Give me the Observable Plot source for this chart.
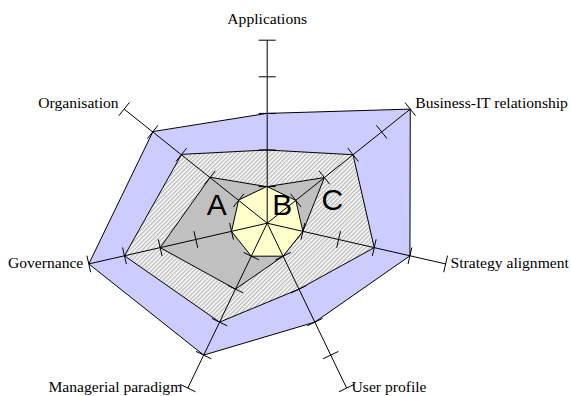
<!DOCTYPE html>
<html>
<head>
<meta charset="utf-8">
<script src="https://cdn.jsdelivr.net/npm/d3@7"></script>
<script src="https://cdn.jsdelivr.net/npm/@observablehq/plot@0.6"></script>
<style>
  html, body { margin: 0; padding: 0; background: #fff; }
  #chart svg { display: block; }
</style>
</head>
<body>
<div id="chart"></div>
<script>
// ---- data ----
const axes = ["Applications", "Business-IT relationship", "Strategy alignment", "User profile", "Managerial paradigm", "Governance", "Organisation"];
const levels = [1, 2, 3, 4, 5];
const seriesOuter = [3, 5, 4, 3, 4, 5, 4];
const seriesHatched = [2, 3, 3, 2, 3, 4, 3];
const seriesA = [1, 2, 1, 1, 2, 3, 2];
const seriesB = [1, 1, 1, 1, 1, 1, 1];
const zoneNames = ["A", "B", "C"];
const zoneX = [-1.38, 0.41, 1.78];
const zoneY = [0.48, 0.48, 0.61];

// ---- geometry ----
const W = 571, H = 396;
const cx = 266.7, cy = 222.7, unit = 36.6;
const n = axes.length;
const maxLevel = d3.max(levels);
const ang = i => Math.PI / 2 - i * 2 * Math.PI / n;
const pts = vals => vals.map((v, i) => ({x: v * Math.cos(ang(i)), y: v * Math.sin(ang(i))}));

const spokes = axes.map((a, i) => ({x1: 0, y1: 0, x2: maxLevel * Math.cos(ang(i)), y2: maxLevel * Math.sin(ang(i))}));
const half = 8.5 / unit;
const ticks = [];
axes.forEach((a, i) => levels.forEach(l => {
  const t = ang(i), px = -Math.sin(t), py = Math.cos(t);
  const x = l * Math.cos(t), y = l * Math.sin(t);
  ticks.push({x1: x - px * half, y1: y - py * half, x2: x + px * half, y2: y + py * half});
}));
const labels = axes.map((a, i) => {
  const t = ang(i), c = Math.cos(t), s = Math.sin(t);
  const top = Math.abs(c) < 0.1;
  return {
    name: a, x: maxLevel * c, y: maxLevel * s,
    anchor: top ? "middle" : (c > 0 ? "start" : "end"),
    dx: top ? 0 : (c > 0 ? 5 : -5.5),
    dy: top ? -21 : Math.min(-2 - s * 6.5, -0.8)
  };
});
const zones = zoneNames.map((z, i) => ({name: z, x: zoneX[i], y: zoneY[i]}));

const defs = () => {
  const g = d3.create("svg:defs");
  const p = g.append("pattern").attr("id", "hatch").attr("patternUnits", "userSpaceOnUse")
    .attr("width", 3).attr("height", 3).attr("patternTransform", "rotate(45)");
  p.append("rect").attr("width", 3).attr("height", 3).attr("fill", "#ffffff");
  p.append("rect").attr("width", 1.5).attr("height", 3).attr("fill", "#bdbdbd");
  return g.node();
};

const textMarks = ["start", "middle", "end"].map(anchor => {
  const sub = labels.filter(d => d.anchor === anchor);
  return Plot.text(sub, {
    x: "x", y: "y", text: "name", textAnchor: anchor,
    fontFamily: "Liberation Serif, Times New Roman, serif", fontSize: 15.6, fill: "black",
    render: (index, scales, values, dims, ctx, next) => {
      const g = next(index, scales, values, dims, ctx);
      d3.select(g).selectAll("text").each(function(_, k) {
        const d = sub[index[k]];
        d3.select(this).attr("transform", `translate(${values.x[index[k]] + d.dx},${values.y[index[k]] + d.dy})`);
      });
      return g;
    }
  });
});

const chart = Plot.plot({
  width: W, height: H,
  margin: 0,
  x: {domain: [-cx / unit, (W - cx) / unit], range: [0, W], axis: null},
  y: {domain: [-(H - cy) / unit, cy / unit], range: [H, 0], axis: null},
  style: {background: "white", overflow: "visible"},
  marks: [
    defs,
    Plot.line(pts(seriesOuter), {x: "x", y: "y", curve: "linear-closed", fill: "#ccccff", stroke: "black", strokeWidth: 1}),
    Plot.line(pts(seriesHatched), {x: "x", y: "y", curve: "linear-closed", fill: "url(#hatch)", stroke: "black", strokeWidth: 1}),
    Plot.line(pts(seriesA), {x: "x", y: "y", curve: "linear-closed", fill: "#c0c0c0", stroke: "black", strokeWidth: 1}),
    Plot.line(pts(seriesB), {x: "x", y: "y", curve: "linear-closed", fill: "#ffffcc", stroke: "black", strokeWidth: 1}),
    Plot.link(spokes, {x1: "x1", y1: "y1", x2: "x2", y2: "y2", stroke: "black", strokeWidth: 1}),
    Plot.link(ticks, {x1: "x1", y1: "y1", x2: "x2", y2: "y2", stroke: "black", strokeWidth: 1}),
    ...textMarks,
    Plot.text(zones, {x: "x", y: "y", text: "name", fontFamily: "Liberation Sans, Arial, sans-serif", fontSize: 30, fill: "black"})
  ]
});
document.getElementById("chart").appendChild(chart);
</script>
</body>
</html>
